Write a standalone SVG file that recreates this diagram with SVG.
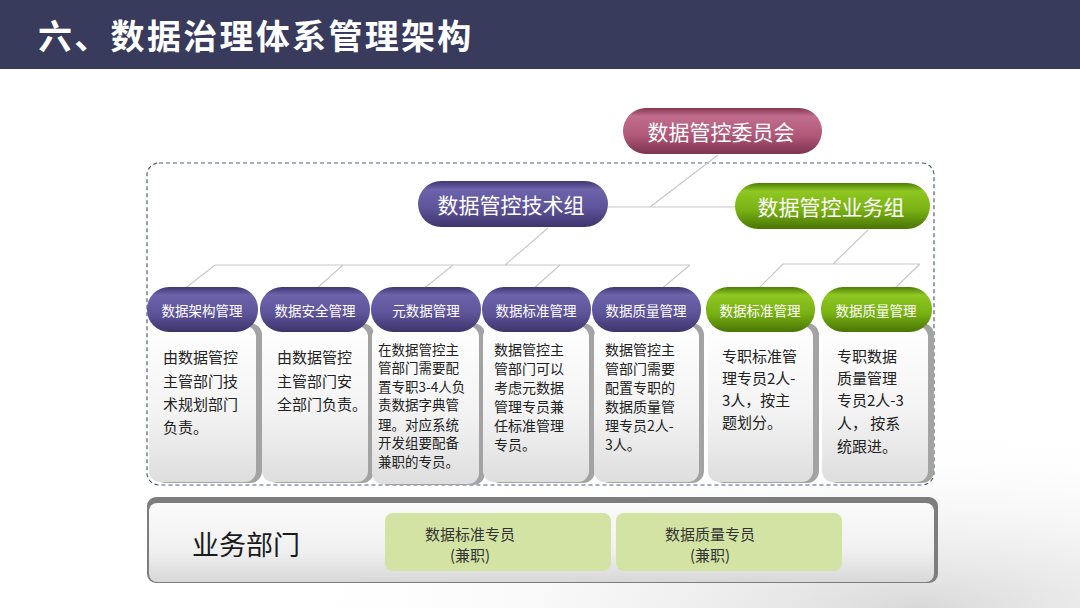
<svg xmlns="http://www.w3.org/2000/svg" width="1080" height="608" viewBox="0 0 1080 608">
<defs>
<linearGradient id="gPurple" x1="0" y1="0" x2="0" y2="1">
<stop offset="0" stop-color="#3f3672"/><stop offset="0.18" stop-color="#6d63ab"/><stop offset="0.6" stop-color="#5d5399"/><stop offset="1" stop-color="#3e346c"/>
</linearGradient>
<linearGradient id="gGreen" x1="0" y1="0" x2="0" y2="1">
<stop offset="0" stop-color="#4f7d05"/><stop offset="0.18" stop-color="#8fc822"/><stop offset="0.6" stop-color="#77b012"/><stop offset="1" stop-color="#4a7505"/>
</linearGradient>
<linearGradient id="gPink" x1="0" y1="0" x2="0" y2="1">
<stop offset="0" stop-color="#853652"/><stop offset="0.18" stop-color="#c26d8e"/><stop offset="0.6" stop-color="#b05878"/><stop offset="1" stop-color="#7e3350"/>
</linearGradient>
<linearGradient id="gBox" x1="0" y1="0" x2="0" y2="1">
<stop offset="0" stop-color="#ffffff"/><stop offset="0.55" stop-color="#f3f3f3"/><stop offset="1" stop-color="#dedede"/>
</linearGradient>
<linearGradient id="gBar" x1="0" y1="0" x2="0" y2="1">
<stop offset="0" stop-color="#fbfbfb"/><stop offset="0.6" stop-color="#f0f0f0"/><stop offset="1" stop-color="#d8d8d8"/>
</linearGradient>
<radialGradient id="gBg" cx="0.85" cy="1" r="0.6">
<stop offset="0" stop-color="#d9d9d9"/><stop offset="1" stop-color="#ffffff" stop-opacity="0"/>
</radialGradient>
<style>
.t{font-family:"Noto Sans CJK SC","Noto Sans",sans-serif;}
.pillT{fill:#ffffff;font-size:13.5px;text-anchor:middle;}
.bigT{fill:#ffffff;font-size:21px;text-anchor:middle;}
.desc{fill:#222222;font-size:15px;}
.desc2{fill:#222222;font-size:13.5px;}
.desc3{fill:#222222;font-size:14px;}
.conn{stroke:#c9c9c9;stroke-width:1.2;fill:none;}
.shadow{fill:#a3a3a3;}
.box{fill:url(#gBox);}
.pp{fill:url(#gPurple);}
.pg{fill:url(#gGreen);}
.sub{fill:#d3e3a3;}
.subT{fill:#333333;font-size:15px;text-anchor:middle;}
</style>
</defs>
<rect x="0" y="0" width="1080" height="608" fill="#ffffff"/>
<rect x="0" y="300" width="1080" height="308" fill="url(#gBg)"/>
<g id="header">
<rect x="0" y="0" width="1080" height="69" fill="#383b5c"/>
<text class="t" x="38" y="49" font-size="34" font-weight="bold" fill="#ffffff" letter-spacing="2.3">六、数据治理体系管理架构</text>
</g>
<rect id="frame" x="147" y="163" width="787" height="322" rx="12" fill="none" stroke="#4a6080" stroke-width="1.2" stroke-dasharray="4 3"/>
<g id="connectors">
<path class="conn" d="M718 155 L650 207 M608 207 L735 207"/>
<path class="conn" d="M548 228 L505 265 M215 265 L690 265"/>
<path class="conn" d="M215 265 L183 290 M343 265 L315 290 M453 265 L422 290 M560 265 L532 290 M690 265 L660 290"/>
<path class="conn" d="M868 230 L833 264 M783 264 L920 264 M783 264 L757 290 M920 264 L893 290"/>
</g>
<g id="committee">
<rect x="623" y="108" width="199" height="46" rx="23" fill="url(#gPink)"/>
<text class="t bigT" x="721" y="140">数据管控委员会</text>
</g>
<g id="tech-group">
<rect x="418" y="181" width="190" height="46" rx="23" class="pp"/>
<text class="t bigT" x="511" y="213">数据管控技术组</text>
</g>
<g id="biz-group">
<rect x="735" y="183" width="195" height="46" rx="23" class="pg"/>
<text class="t bigT" x="831" y="215">数据管控业务组</text>
</g>
<g id="col1">
<rect class="shadow" x="154" y="323" width="108" height="160" rx="12"/>
<rect class="box" x="149" y="326" width="107" height="156" rx="11"/>
<rect class="pp" x="147" y="287" width="111" height="45" rx="22"/>
<text class="t pillT" x="202" y="316">数据架构管理</text>
<text class="t desc" x="163" y="363">由数据管控</text>
<text class="t desc" x="163" y="387">主管部门技</text>
<text class="t desc" x="163" y="410">术规划部门</text>
<text class="t desc" x="163" y="433">负责。</text>
</g>
<g id="col2">
<rect class="shadow" x="266" y="323" width="108" height="160" rx="12"/>
<rect class="box" x="262" y="326" width="106" height="156" rx="11"/>
<rect class="pp" x="260" y="287" width="110" height="45" rx="22"/>
<text class="t pillT" x="315" y="316">数据安全管理</text>
<text class="t desc" x="277" y="363">由数据管控</text>
<text class="t desc" x="277" y="387">主管部门安</text>
<text class="t desc" x="277" y="410">全部门负责。</text>
</g>
<g id="col3">
<rect class="shadow" x="377" y="323" width="108" height="162" rx="12"/>
<rect class="box" x="372" y="326" width="107" height="158" rx="11"/>
<rect class="pp" x="371" y="287" width="110" height="45" rx="22"/>
<text class="t pillT" x="426" y="316">元数据管理</text>
<text class="t desc2" x="378" y="355">在数据管控主</text>
<text class="t desc2" x="378" y="373">管部门需要配</text>
<text class="t desc2" x="378" y="392">置专职3-4人负</text>
<text class="t desc2" x="378" y="410">责数据字典管</text>
<text class="t desc2" x="378" y="430">理。对应系统</text>
<text class="t desc2" x="378" y="448">开发组要配备</text>
<text class="t desc2" x="378" y="467">兼职的专员。</text>
</g>
<g id="col4">
<rect class="shadow" x="488" y="323" width="107" height="160" rx="12"/>
<rect class="box" x="483" y="326" width="106" height="156" rx="11"/>
<rect class="pp" x="482" y="287" width="109" height="45" rx="22"/>
<text class="t pillT" x="536" y="316">数据标准管理</text>
<text class="t desc3" x="494" y="355">数据管控主</text>
<text class="t desc3" x="494" y="374">管部门可以</text>
<text class="t desc3" x="494" y="393">考虑元数据</text>
<text class="t desc3" x="494" y="412">管理专员兼</text>
<text class="t desc3" x="494" y="431">任标准管理</text>
<text class="t desc3" x="494" y="450">专员。</text>
</g>
<g id="col5">
<rect class="shadow" x="598" y="323" width="106" height="160" rx="12"/>
<rect class="box" x="594" y="326" width="105" height="156" rx="11"/>
<rect class="pp" x="592" y="287" width="109" height="45" rx="22"/>
<text class="t pillT" x="646" y="316">数据质量管理</text>
<text class="t desc3" x="605" y="355">数据管控主</text>
<text class="t desc3" x="605" y="374">管部门需要</text>
<text class="t desc3" x="605" y="393">配置专职的</text>
<text class="t desc3" x="605" y="412">数据质量管</text>
<text class="t desc3" x="605" y="431">理专员2人-</text>
<text class="t desc3" x="605" y="450">3人。</text>
</g>
<g id="col6">
<rect class="shadow" x="712" y="323" width="107" height="160" rx="12"/>
<rect class="box" x="708" y="326" width="105" height="156" rx="11"/>
<rect class="pg" x="706" y="287" width="109" height="45" rx="22"/>
<text class="t pillT" x="760" y="316">数据标准管理</text>
<text class="t desc" x="722" y="362">专职标准管</text>
<text class="t desc" x="722" y="384">理专员2人-</text>
<text class="t desc" x="722" y="406">3人，按主</text>
<text class="t desc" x="722" y="428">题划分。</text>
</g>
<g id="col7">
<rect class="shadow" x="826" y="323" width="108" height="160" rx="12"/>
<rect class="box" x="822" y="326" width="106" height="156" rx="11"/>
<rect class="pg" x="821" y="287" width="111" height="45" rx="22"/>
<text class="t pillT" x="876" y="316">数据质量管理</text>
<text class="t desc" x="837" y="362">专职数据</text>
<text class="t desc" x="837" y="384">质量管理</text>
<text class="t desc" x="837" y="406">专员2人-3</text>
<text class="t desc" x="837" y="429">人， 按系</text>
<text class="t desc" x="837" y="452">统跟进。</text>
</g>
<g id="business-dept">
<rect x="147" y="497" width="791" height="86" rx="9" fill="#7d7d7d"/>
<rect x="149" y="503" width="785" height="79" rx="8" fill="url(#gBar)"/>
<text class="t" x="192" y="555" font-size="27" fill="#1a1a1a">业务部门</text>
</g>
<g id="std-staff">
<rect class="sub" x="385" y="513" width="226" height="58" rx="8"/>
<text class="t subT" x="470" y="540">数据标准专员</text>
<text class="t subT" x="470" y="561">(兼职)</text>
</g>
<g id="quality-staff">
<rect class="sub" x="616" y="513" width="226" height="58" rx="8"/>
<text class="t subT" x="710" y="540">数据质量专员</text>
<text class="t subT" x="710" y="561">(兼职)</text>
</g>
</svg>
